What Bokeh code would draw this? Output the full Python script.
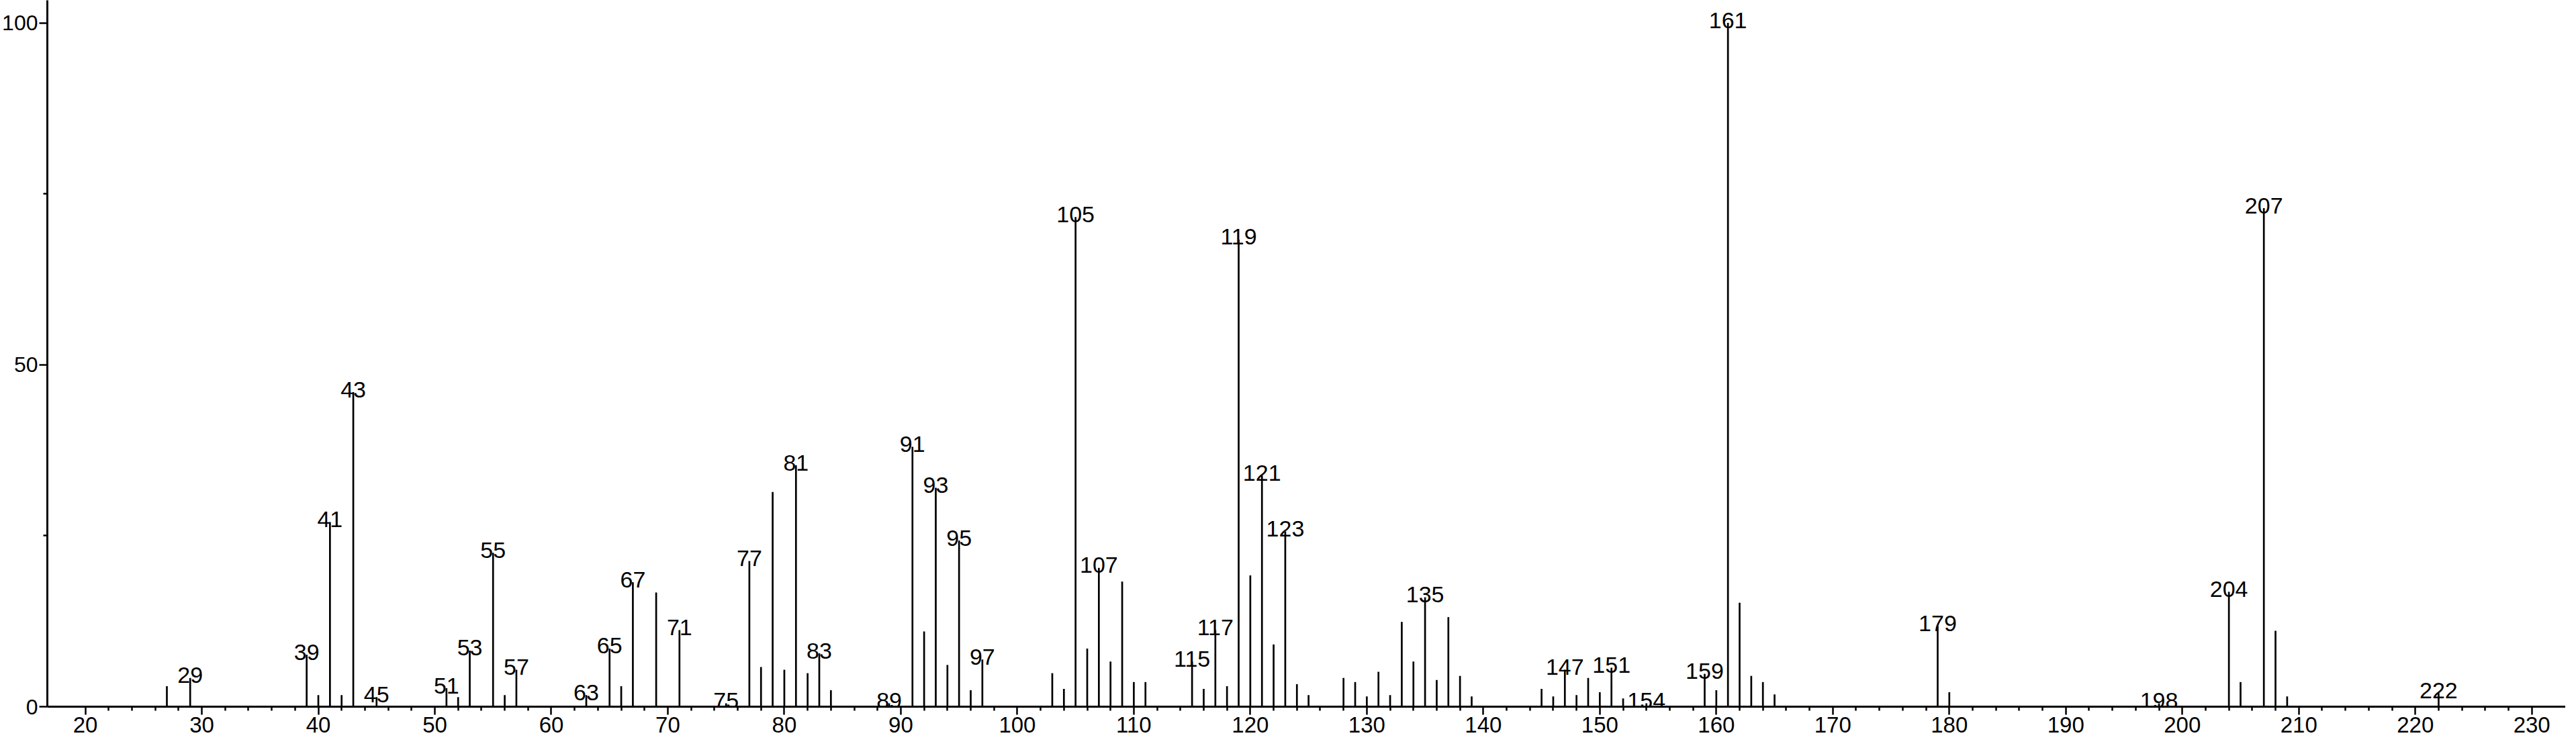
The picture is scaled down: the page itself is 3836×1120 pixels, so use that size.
from bokeh.plotting import figure
from bokeh.models import FixedTicker, Range1d, ColumnDataSource
from bokeh.core.properties import value
from bokeh.embed import file_html
from bokeh.resources import INLINE

# m/z values and relative intensities
mz = [27, 29, 39, 40, 41, 42, 43, 45, 51, 52, 53, 55, 56, 57, 63, 65, 66, 67, 69, 71,
      75, 77, 78, 79, 80, 81, 82, 83, 84, 89, 91, 92, 93, 94, 95, 96, 97, 103, 104, 105,
      106, 107, 108, 109, 110, 111, 115, 116, 117, 118, 119, 120, 121, 122, 123, 124, 125,
      128, 129, 130, 131, 132, 133, 134, 135, 136, 137, 138, 139, 145, 146, 147, 148, 149,
      150, 151, 152, 154, 159, 160, 161, 162, 163, 164, 165, 179, 180, 198, 204, 205, 207,
      208, 209, 222]
intensity = [3.0, 4.2, 7.6, 1.7, 27.0, 1.7, 46.0, 1.4, 2.7, 1.4, 8.2, 22.5, 1.7, 5.4, 1.7, 8.5, 3.0, 18.2, 16.7, 11.2,
             0.5, 21.3, 5.8, 31.4, 5.4, 35.3, 4.9, 7.8, 2.4, 0.5, 38.0, 11.0, 32.0, 6.1, 24.3, 2.4, 6.9, 4.9, 2.6, 71.6,
             8.5, 20.3, 6.6, 18.3, 3.6, 3.6, 6.6, 2.6, 11.2, 3.0, 68.3, 19.2, 33.8, 9.1, 25.6, 3.3, 1.7,
             4.2, 3.6, 1.5, 5.1, 1.7, 12.4, 6.6, 16.0, 3.9, 13.1, 4.5, 1.5, 2.6, 1.5, 5.4, 1.7, 4.2,
             2.1, 5.7, 1.2, 0.5, 4.8, 2.4, 100.0, 15.2, 4.5, 3.6, 1.8, 11.8, 2.1, 0.5, 16.8, 3.6, 72.9,
             11.1, 1.5, 2.0]
labelled = [29, 39, 41, 43, 45, 51, 53, 55, 57, 63, 65, 67, 71, 75, 77, 81, 83, 89, 91, 93,
            95, 97, 105, 107, 115, 117, 119, 121, 123, 135, 147, 151, 154, 159, 161, 179, 198,
            204, 207, 222]
x_major = [20, 30, 40, 50, 60, 70, 80, 90, 100, 110, 120, 130, 140, 150, 160, 170, 180,
           190, 200, 210, 220, 230]
y_major = [0, 50, 100]
y_minor = [25, 75]

x_minor = [v for v in range(22, 230, 2) if v % 10 != 0]

lookup = dict(zip(mz, intensity))
peaks = ColumnDataSource(dict(mz=mz, intensity=intensity))
lab = ColumnDataSource(dict(x=labelled, y=[lookup[m] for m in labelled],
                            t=[str(m) for m in labelled]))

FONT = "Liberation Sans"

p = figure(width=3820, height=1104, output_backend="svg", toolbar_location=None,
           x_range=Range1d(16.74, 232.9), y_range=Range1d(0, 103.3),
           min_border_left=61, min_border_right=0, min_border_top=0, min_border_bottom=52)
p.outline_line_color = None
p.grid.visible = False
p.background_fill_color = "white"
p.border_fill_color = "white"

p.segment(x0="mz", y0=0, x1="mz", y1="intensity", source=peaks,
          line_color="black", line_width=2.7)
p.text(x="x", y="y", text="t", source=lab, text_align="center",
       text_baseline="alphabetic", y_offset=-4, text_font=value(FONT),
       text_font_size="34px", text_color="black")

for ax in (p.xaxis[0], p.yaxis[0]):
    ax.axis_line_color = "black"
    ax.axis_line_width = 3
    ax.major_tick_line_color = "black"
    ax.major_tick_line_width = 2.5
    ax.minor_tick_line_color = "black"
    ax.minor_tick_line_width = 2.5
    ax.major_tick_in = 0
    ax.minor_tick_in = 0
    ax.major_tick_out = 12
    ax.minor_tick_out = 6
    ax.major_label_text_font = FONT
    ax.major_label_text_color = "black"

p.xaxis.ticker = FixedTicker(ticks=x_major, minor_ticks=x_minor)
p.yaxis.ticker = FixedTicker(ticks=y_major, minor_ticks=y_minor)
p.xaxis.major_label_text_font_size = "33px"
p.yaxis.major_label_text_font_size = "32px"
p.xaxis.major_label_standoff = 3
p.yaxis.major_label_standoff = 2

open("out.html", "w").write(file_html(p, INLINE))
